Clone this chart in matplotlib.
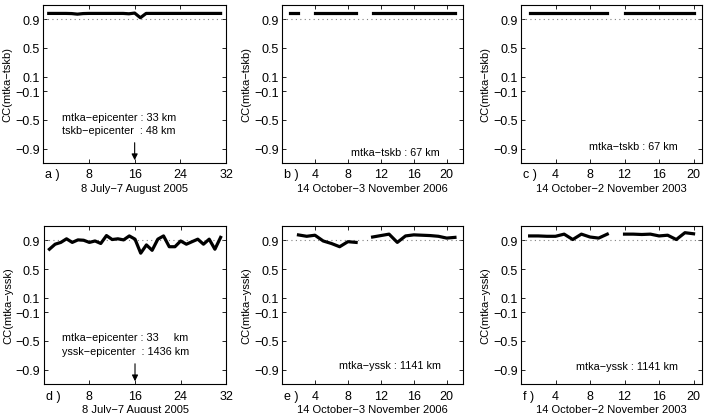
import numpy as np
import matplotlib.pyplot as plt

plt.rcParams['font.family'] = ['Liberation Sans', 'DejaVu Sans']
plt.rcParams['axes.unicode_minus'] = True

nan = np.nan

# ---- datos ----
days_a = np.arange(1, 32)
cc_a = [0.98, 0.98, 0.98, 0.98, 0.978, 0.97, 0.978, 0.98, 0.98, 0.98,
        0.98, 0.98, 0.98, 0.98, 0.975, 0.985, 0.92, 0.98, 0.98, 0.98,
        0.98, 0.98, 0.98, 0.98, 0.98, 0.98, 0.98, 0.98, 0.98, 0.98, 0.98]

days_b = np.arange(1, 22)
cc_b = [0.985, 0.985, nan, 0.985, 0.985, 0.985, 0.985, 0.985, 0.985, nan,
        0.985, 0.985, 0.985, 0.985, 0.985, 0.985, 0.985, 0.985, 0.985, 0.985, 0.985]

days_c = np.arange(1, 21)
cc_c = [0.985, 0.985, 0.985, 0.985, 0.985, 0.985, 0.985, 0.985, 0.985, 0.985,
        nan, 0.985, 0.985, 0.985, 0.985, 0.985, 0.985, 0.985, 0.985, 0.985]

days_d = np.arange(1, 32)
cc_d = [0.775, 0.845, 0.87, 0.92, 0.87, 0.905, 0.90, 0.87, 0.89, 0.855,
        0.965, 0.91, 0.92, 0.905, 0.96, 0.915, 0.72, 0.835, 0.76, 0.915,
        0.96, 0.81, 0.81, 0.89, 0.845, 0.88, 0.915, 0.845, 0.915, 0.775, 0.94]

days_e = np.arange(1, 22)
cc_e = [nan, 0.974, 0.955, 0.97, 0.89, 0.855, 0.81, 0.88, 0.87, nan,
        0.945, 0.965, 0.985, 0.87, 0.96, 0.975, 0.97, 0.965, 0.955, 0.93, 0.94]

days_f = np.arange(1, 21)
cc_f = [0.96, 0.96, 0.955, 0.955, 0.985, 0.91, 0.985, 0.945, 0.93, 0.985,
        nan, 0.985, 0.985, 0.98, 0.985, 0.96, 0.97, 0.91, 1.005, 0.99]

umbral = 0.9
yticks = [-0.9, -0.5, -0.1, 0.1, 0.5, 0.9]

paneles = [
    # x, y, xmax, xticks, xlabel, ylabel, letra
    (days_a, cc_a, 32, [8, 16, 24, 32], "8 July\u22127 August 2005", "CC(mtka\u2212tskb)", "a )"),
    (days_b, cc_b, 22, [4, 8, 12, 16, 20], "14 October\u22123 November 2006", "CC(mtka\u2212tskb)", "b )"),
    (days_c, cc_c, 21, [4, 8, 12, 16, 20], "14 October\u22122 November 2003", "CC(mtka\u2212tskb)", "c )"),
    (days_d, cc_d, 32, [8, 16, 24, 32], "8 July\u22127 August 2005", "CC(mtka\u2212yssk)", "d )"),
    (days_e, cc_e, 22, [4, 8, 12, 16, 20], "14 October\u22123 November 2006", "CC(mtka\u2212yssk)", "e )"),
    (days_f, cc_f, 21, [4, 8, 12, 16, 20], "14 October\u22122 November 2003", "CC(mtka\u2212yssk)", "f )"),
]

posiciones = [
    [0.061, 0.604, 0.260, 0.382],
    [0.400, 0.604, 0.257, 0.382],
    [0.739, 0.604, 0.257, 0.382],
    [0.062, 0.070, 0.259, 0.382],
    [0.400, 0.070, 0.257, 0.382],
    [0.739, 0.070, 0.257, 0.382],
]

fig = plt.figure(figsize=(7.05, 4.14), dpi=100)
axes = []
for (x, y, xmax, xt, xl, yl, letra), pos in zip(paneles, posiciones):
    ax = fig.add_axes(pos)
    ax.axhline(umbral, ls=(0, (1, 3)), color='gray', lw=0.8)
    ax.plot(x, y, color='black', lw=2.3)
    ax.set_xlim(0, xmax)
    ax.set_ylim(-1.1, 1.1)
    ax.set_xticks(xt)
    ax.set_yticks(yticks)
    ax.set_yticklabels([("%.1f" % v).replace("-", "\u2212") for v in yticks])
    ax.tick_params(direction='in', top=True, right=True, labelsize=9, length=3, width=0.6)
    ax.tick_params(axis='x', pad=4)
    ax.tick_params(axis='y', pad=2.5)
    for s in ax.spines.values():
        s.set_linewidth(0.8)
    ax.set_xlabel(xl, fontsize=8, labelpad=1.5)
    ax.set_ylabel(yl, fontsize=8, labelpad=1.5)
    ax.annotate(letra, xy=(0.012, 0), xycoords='axes fraction', xytext=(0, -4),
                textcoords='offset points', ha='left', va='top', fontsize=9)
    axes.append(ax)

fs = 7.8
axes[0].text(3.4, -0.457, "mtka\u2212epicenter : 33 km", fontsize=fs, va='center')
axes[0].text(3.4, -0.637, "tskb\u2212epicenter  : 48 km", fontsize=fs, va='center')
axes[0].annotate("", xy=(16, -1.1), xytext=(16, -0.78),
                 arrowprops=dict(arrowstyle='-|>', color='black', lw=0.8, mutation_scale=9))

axes[1].text(8.4, -0.95, "mtka\u2212tskb : 67 km", fontsize=fs, va='center')
axes[2].text(7.9, -0.87, "mtka\u2212tskb : 67 km", fontsize=fs, va='center')

axes[3].text(3.2, -0.452, "mtka\u2212epicenter : 33     km", fontsize=fs, va='center')
axes[3].text(3.2, -0.635, "yssk\u2212epicenter  : 1436 km", fontsize=fs, va='center')
axes[3].annotate("", xy=(16, -1.1), xytext=(16, -0.78),
                 arrowprops=dict(arrowstyle='-|>', color='black', lw=0.8, mutation_scale=9))

axes[4].text(6.9, -0.83, "mtka\u2212yssk : 1141 km", fontsize=fs, va='center')
axes[5].text(6.4, -0.85, "mtka\u2212yssk : 1141 km", fontsize=fs, va='center')

fig.savefig("out.png", dpi=100)
